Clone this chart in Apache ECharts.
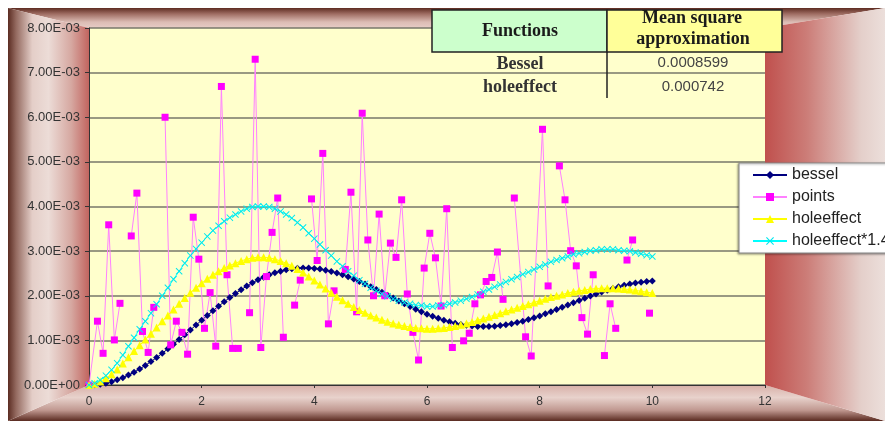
<!DOCTYPE html>
<html>
<head>
<meta charset="utf-8">
<script src="https://cdn.jsdelivr.net/npm/echarts@6/dist/echarts.min.js"></script>
<style>
  html, body { margin: 0; padding: 0; background: #ffffff; }
  #chart { width: 885px; height: 425px; }
</style>
</head>
<body>
<div id="chart"></div>
<script>
// Lag distances for the fitted variogram models
const lags = [
  0, 0.1, 0.2, 0.3, 0.4, 0.5, 0.6, 0.7, 0.8, 0.9,
  1, 1.1, 1.2, 1.3, 1.4, 1.5, 1.6, 1.7, 1.8, 1.9,
  2, 2.1, 2.2, 2.3, 2.4, 2.5, 2.6, 2.7, 2.8, 2.9,
  3, 3.1, 3.2, 3.3, 3.4, 3.5, 3.6, 3.7, 3.8, 3.9,
  4, 4.1, 4.2, 4.3, 4.4, 4.5, 4.6, 4.7, 4.8, 4.9,
  5, 5.1, 5.2, 5.3, 5.4, 5.5, 5.6, 5.7, 5.8, 5.9,
  6, 6.1, 6.2, 6.3, 6.4, 6.5, 6.6, 6.7, 6.8, 6.9,
  7, 7.1, 7.2, 7.3, 7.4, 7.5, 7.6, 7.7, 7.8, 7.9,
  8, 8.1, 8.2, 8.3, 8.4, 8.5, 8.6, 8.7, 8.8, 8.9,
  9, 9.1, 9.2, 9.3, 9.4, 9.5, 9.6, 9.7, 9.8, 9.9, 10
];

// Model values, in units of 1E-03
const bessel = [
  0, 0.005, 0.019, 0.042, 0.074, 0.115, 0.165, 0.222, 0.287, 0.360,
  0.439, 0.524, 0.615, 0.710, 0.810, 0.913, 1.018, 1.126, 1.234, 1.343,
  1.451, 1.558, 1.664, 1.766, 1.865, 1.961, 2.051, 2.136, 2.216, 2.289,
  2.356, 2.416, 2.469, 2.514, 2.551, 2.581, 2.603, 2.617, 2.623, 2.621,
  2.613, 2.597, 2.574, 2.545, 2.510, 2.469, 2.424, 2.374, 2.320, 2.262,
  2.202, 2.140, 2.076, 2.012, 1.947, 1.883, 1.820, 1.758, 1.699, 1.642,
  1.588, 1.538, 1.493, 1.451, 1.415, 1.384, 1.358, 1.337, 1.322, 1.313,
  1.309, 1.311, 1.318, 1.331, 1.349, 1.372, 1.400, 1.431, 1.467, 1.506,
  1.549, 1.594, 1.641, 1.690, 1.741, 1.792, 1.843, 1.893, 1.943, 1.992,
  2.039, 2.084, 2.126, 2.165, 2.201, 2.233, 2.261, 2.285, 2.304, 2.319, 2.330
];

const holeEffect = [
  0, 0.03, 0.08, 0.15, 0.24, 0.35, 0.48, 0.62, 0.76, 0.89,
  1.02, 1.15, 1.29, 1.43, 1.56, 1.69, 1.82, 1.95, 2.07, 2.18,
  2.28, 2.38, 2.47, 2.55, 2.62, 2.68, 2.73, 2.78, 2.82, 2.85,
  2.86, 2.86, 2.85, 2.82, 2.78, 2.73, 2.67, 2.60, 2.52, 2.43,
  2.34, 2.25, 2.16, 2.07, 1.98, 1.90, 1.82, 1.75, 1.68, 1.62,
  1.56, 1.51, 1.46, 1.42, 1.38, 1.35, 1.32, 1.30, 1.28, 1.27,
  1.26, 1.26, 1.27, 1.28, 1.30, 1.32, 1.35, 1.38, 1.41, 1.45,
  1.49, 1.53, 1.57, 1.61, 1.65, 1.69, 1.73, 1.77, 1.81, 1.85,
  1.89, 1.93, 1.97, 2.00, 2.03, 2.06, 2.09, 2.11, 2.13, 2.15,
  2.16, 2.17, 2.17, 2.17, 2.16, 2.15, 2.14, 2.12, 2.10, 2.08, 2.06
];

const holeEffect14 = [
  0, 0.04, 0.11, 0.21, 0.34, 0.49, 0.67, 0.87, 1.06, 1.25,
  1.43, 1.61, 1.81, 2.00, 2.18, 2.37, 2.55, 2.73, 2.90, 3.05,
  3.19, 3.33, 3.46, 3.57, 3.67, 3.75, 3.82, 3.89, 3.95, 3.99,
  4.00, 4.00, 3.99, 3.95, 3.89, 3.82, 3.74, 3.64, 3.53, 3.40,
  3.28, 3.15, 3.02, 2.90, 2.77, 2.66, 2.55, 2.45, 2.35, 2.27,
  2.18, 2.11, 2.04, 1.99, 1.93, 1.89, 1.85, 1.82, 1.79, 1.78,
  1.76, 1.76, 1.78, 1.79, 1.82, 1.85, 1.89, 1.93, 1.97, 2.03,
  2.09, 2.14, 2.20, 2.25, 2.31, 2.37, 2.42, 2.48, 2.53, 2.59,
  2.65, 2.70, 2.76, 2.80, 2.84, 2.88, 2.93, 2.95, 2.98, 3.01,
  3.02, 3.04, 3.04, 3.04, 3.02, 3.01, 3.00, 2.97, 2.94, 2.91, 2.88
];

// Experimental variogram points (null = empty lag, breaks the line)
const pointX = [
  0, 0.15, 0.25, 0.35, 0.45, 0.55, 0.65, 0.75, 0.85, 0.95,
  1.05, 1.15, 1.25, 1.35, 1.45, 1.55, 1.65, 1.75, 1.85, 1.95,
  2.05, 2.15, 2.25, 2.35, 2.45, 2.55, 2.65, 2.75, 2.85, 2.95,
  3.05, 3.15, 3.25, 3.35, 3.45, 3.55, 3.65, 3.75, 3.85, 3.95,
  4.05, 4.15, 4.25, 4.35, 4.45, 4.55, 4.65, 4.75, 4.85, 4.95,
  5.05, 5.15, 5.25, 5.35, 5.45, 5.55, 5.65, 5.75, 5.85, 5.95,
  6.05, 6.15, 6.25, 6.35, 6.45, 6.55, 6.65, 6.75, 6.85, 6.95,
  7.05, 7.15, 7.25, 7.35, 7.45, 7.55, 7.75, 7.85, 8.05, 8.15,
  8.25, 8.35, 8.45, 8.55, 8.65, 8.75, 8.85, 8.95, 9.05, 9.15,
  9.25, 9.35, 9.45, 9.55, 9.65, 9.75, 9.95
];
const pointY = [
  0, 1.43, 0.71, 3.59, 1.01, 1.83, null, 3.34, 4.30, 1.20,
  0.73, 1.74, null, 6.00, 0.90, 1.43, 1.18, 0.69, 3.76, 2.82,
  1.27, 2.07, 0.87, 6.69, 2.47, 0.82, 0.82, null, 1.62, 7.30,
  0.84, 2.43, 3.42, 4.19, 1.07, null, 1.79, 2.35, null, 4.17,
  2.79, 5.19, 1.37, 2.11, null, 2.59, 4.32, 1.64, 6.09, 3.25,
  2.00, 3.83, 2.00, 3.18, 2.86, 4.15, 2.04, 1.18, 0.56, 2.62,
  3.40, 2.85, 1.77, 3.95, 0.84, null, 0.99, 1.16, 1.82, 2.02,
  2.32, 2.41, 2.98, 1.92, null, 4.19, 1.08, 0.65, 5.73, 2.22,
  null, 4.91, 4.15, 3.01, 2.67, 1.51, 1.14, 2.47, null, 0.66,
  1.82, 1.27, null, 2.80, 3.25, null, 1.61
];

// Summary table
const tableHead = ['Functions', 'Mean square', 'approximation'];
const tableNames = ['Bessel', 'holeeffect'];
const tableErrors = ['0.0008599', '0.000742'];

const yTicksMax = 8;     // 8.00E-03
const milli = 1e-3;

function sci(v) {
  if (Math.abs(v) < 1e-12) return '0.00E+00';
  const parts = v.toExponential(2).split('e');
  const n = parseInt(parts[1], 10);
  return parts[0] + 'E' + (n < 0 ? '-' : '+') + String(Math.abs(n)).padStart(2, '0');
}

const curve = arr => lags.map((h, i) => [h, arr[i] * milli]);
const pointData = pointX.map((x, i) => [x, pointY[i] === null ? '-' : pointY[i] * milli]);

// plot rectangle and outer frame edges
const L = 89, T = 28, R = 765, B = 385;
const OL = 8, OT = 8, OR = 885, OB = 421;

const grad = (x2, y2, stops) => ({
  type: 'linear', x: 0, y: 0, x2: x2, y2: y2,
  colorStops: stops.map(s => ({ offset: s[0], color: s[1] }))
});

const frame = [
  { type: 'polygon', z: 0, silent: true,
    shape: { points: [[OL, OT], [OR, OT], [R, T], [L, T]] },
    style: { fill: grad(0, 1, [[0, '#5e2c22'], [0.3, '#a06e64'], [0.7, '#dcbcb4'], [1, '#e6ccc6']]) } },
  { type: 'polygon', z: 0, silent: true,
    shape: { points: [[OL, OB], [OR, OB], [R, B], [L, B]] },
    style: { fill: grad(0, 1, [[0, '#d8b0a8'], [0.35, '#e8d2cc'], [0.7, '#c09890'], [1, '#5a2a20']]) } },
  { type: 'polygon', z: 0, silent: true,
    shape: { points: [[OL, OT], [L, T], [L, B], [OL, OB]] },
    style: { fill: grad(1, 0, [[0, '#5b2c22'], [0.1, '#946a60'], [0.3, '#e4cec8'], [0.5, '#ecdcd7'], [0.78, '#d6a8a1'], [1, '#c2645f']]) } },
  { type: 'polygon', z: 0, silent: true,
    shape: { points: [[R, T], [OR, OT], [OR, OB], [R, B]] },
    style: { fill: grad(1, 0, [[0, '#c0504d'], [0.35, '#cc7d78'], [0.8, '#e4cfca'], [1, '#ecdfdb']]) } }
];

const serifBold = 'bold 18px "Liberation Serif", "Times New Roman", serif';
const table = [
  { type: 'rect', z: 50, shape: { x: 432, y: 10, width: 175, height: 42 },
    style: { fill: '#ccffcc', stroke: '#222', lineWidth: 1.5 } },
  { type: 'rect', z: 50, shape: { x: 607, y: 10, width: 175, height: 42 },
    style: { fill: '#ffff99', stroke: '#222', lineWidth: 1.5 } },
  { type: 'line', z: 50, shape: { x1: 607, y1: 52, x2: 607, y2: 98 },
    style: { stroke: '#222', lineWidth: 1.5 } },
  { type: 'text', z: 51, style: { text: tableHead[0], x: 520, y: 31, align: 'center', verticalAlign: 'middle', font: serifBold, fill: '#1a1a1a' } },
  { type: 'text', z: 51, style: { text: tableHead[1], x: 692, y: 18, align: 'center', verticalAlign: 'middle', font: serifBold, fill: '#1a1a1a' } },
  { type: 'text', z: 51, style: { text: tableHead[2], x: 693, y: 39, align: 'center', verticalAlign: 'middle', font: serifBold, fill: '#1a1a1a' } },
  { type: 'text', z: 51, style: { text: tableNames[0], x: 520, y: 64, align: 'center', verticalAlign: 'middle', font: serifBold, fill: '#333' } },
  { type: 'text', z: 51, style: { text: tableNames[1], x: 520, y: 87, align: 'center', verticalAlign: 'middle', font: serifBold, fill: '#333' } },
  { type: 'text', z: 51, style: { text: tableErrors[0], x: 693, y: 63, align: 'center', verticalAlign: 'middle', font: '15px "Liberation Sans", Arial, sans-serif', fill: '#444' } },
  { type: 'text', z: 51, style: { text: tableErrors[1], x: 693, y: 87, align: 'center', verticalAlign: 'middle', font: '15px "Liberation Sans", Arial, sans-serif', fill: '#444' } }
];

const crossPath = 'path://M1,0L5,4L9,0L10,1L6,5L10,9L9,10L5,6L1,10L0,9L4,5L0,1Z';

const chart = echarts.init(document.getElementById('chart'), null, { renderer: 'canvas' });
chart.setOption({
  animation: false,
  backgroundColor: '#ffffff',
  graphic: { elements: frame.concat(table) },
  grid: {
    left: L, top: T, width: R - L, height: B - T,
    show: true, backgroundColor: '#ffffcc', borderWidth: 0
  },
  xAxis: {
    type: 'value', min: 0, max: 12, interval: 2,
    axisLine: { show: true, lineStyle: { color: '#333', width: 1 } },
    axisTick: { show: true, length: 3, lineStyle: { color: '#333' } },
    axisLabel: { margin: 11, fontSize: 12, color: '#333', fontFamily: '"Liberation Sans", Arial, sans-serif' },
    splitLine: { show: false }
  },
  yAxis: {
    type: 'value', min: 0, max: yTicksMax * milli, interval: milli,
    axisLine: { show: true, lineStyle: { color: '#333', width: 1 } },
    axisTick: { show: true, length: 4, lineStyle: { color: '#333' } },
    axisLabel: { margin: 9, fontSize: 13, color: '#333', fontFamily: '"Liberation Sans", Arial, sans-serif', formatter: sci },
    splitLine: { show: true, lineStyle: { color: '#77776a', width: 1.5 } }
  },
  legend: {
    orient: 'vertical', left: 739, top: 163,
    padding: [4, 20, 4, 13], itemGap: 6,
    itemWidth: 34, itemHeight: 10,
    backgroundColor: '#ffffff', borderColor: '#8a8a8a', borderWidth: 1,
    shadowColor: 'rgba(0,0,0,0.35)', shadowBlur: 2, shadowOffsetX: -1, shadowOffsetY: 1,
    textStyle: { fontSize: 16, color: '#222', fontFamily: '"Liberation Sans", Arial, sans-serif' },
    data: ['bessel', 'points', 'holeeffect', 'holeeffect*1.4']
  },
  series: [
    {
      name: 'bessel', type: 'line', data: curve(bessel),
      symbol: 'diamond', symbolSize: 7,
      itemStyle: { color: '#000080' },
      lineStyle: { color: '#000080', width: 1 }
    },
    {
      name: 'points', type: 'line', data: pointData,
      symbol: 'rect', symbolSize: 7, connectNulls: false,
      itemStyle: { color: '#ff00ff' },
      lineStyle: { color: '#ff80ff', width: 1 }
    },
    {
      name: 'holeeffect', type: 'line', data: curve(holeEffect),
      symbol: 'triangle', symbolSize: 8,
      itemStyle: { color: '#ffff00' },
      lineStyle: { color: '#ffff00', width: 1 }
    },
    {
      name: 'holeeffect*1.4', type: 'line', data: curve(holeEffect14),
      symbol: crossPath, symbolSize: 7,
      itemStyle: { color: '#00e8ee' },
      lineStyle: { color: '#00ffff', width: 1 }
    }
  ]
});
</script>
</body>
</html>
